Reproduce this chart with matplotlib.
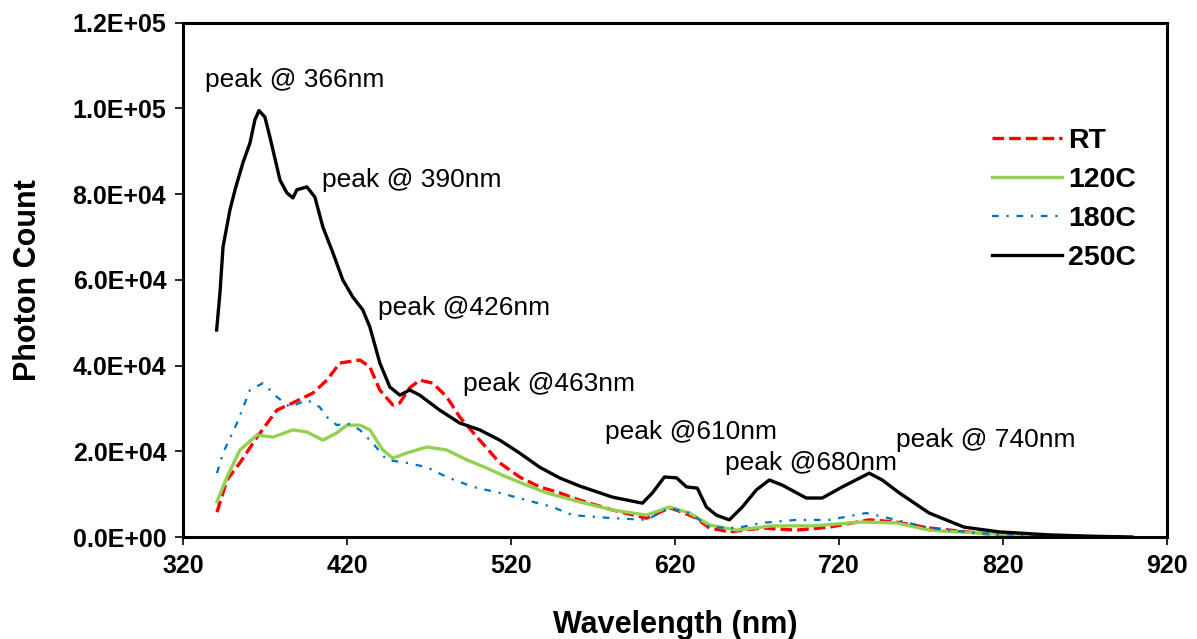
import matplotlib
matplotlib.use('Agg')
import matplotlib.pyplot as plt
from matplotlib.ticker import FuncFormatter

plt.rcParams['font.family'] = ['Liberation Sans', 'DejaVu Sans']

# 250C (black)
wl_250 = [340.5, 342.5, 344.4, 348.6, 351.7, 356.5, 360.8, 363.8, 366.3, 369.9,
          373.0, 379.1, 383.3, 387.0, 389.4, 395.5, 400.4, 405.3, 411.4, 417.4,
          423.5, 429.6, 433.9, 440.0, 446.1, 452.2, 458.2, 464.3, 476.5, 488.7,
          500.9, 513.1, 525.2, 537.4, 549.6, 561.8, 581.9, 600.1, 606.2, 613.5,
          620.9, 627.0, 633.6, 639.1, 645.2, 653.1, 661.0, 669.6, 677.5, 685.4,
          700.0, 709.8, 722.0, 738.4, 746.3, 756.7, 774.9, 796.3, 817.6, 848.0,
          872.4, 898.6]
pc_250 = [48300, 56900, 67700, 76300, 81000, 87300, 91900, 97300, 99500, 98000,
          93300, 83300, 80300, 79100, 81000, 81700, 79300, 72300, 66300, 60000,
          56000, 53000, 49000, 40600, 35000, 33100, 34300, 33100, 29600, 26600,
          25000, 22600, 19600, 16300, 13800, 11900, 9300, 7900, 10300, 14000,
          13800, 11700, 11400, 7000, 5100, 4000, 7000, 11000, 13300, 12100,
          9100, 9100, 11700, 14900, 13300, 10300, 5600, 2300, 1200, 500,
          200, 0]

# RT (red dashed)
wl_rt = [340.7, 346.8, 354.7, 365.1, 377.2, 387.0, 399.2, 407.7, 415.6, 427.8,
         433.9, 440.0, 447.9, 452.2, 458.2, 464.3, 472.3, 480.8, 488.7, 500.9,
         513.1, 525.2, 537.4, 549.6, 561.8, 581.9, 602.6, 616.6, 624.5, 633.0,
         641.0, 653.1, 673.2, 693.9, 714.0, 738.4, 754.8, 774.9, 805.4, 817.6,
         848.0, 892.5]
pc_rt = [5800, 13300, 17300, 23300, 29600, 31300, 33600, 36600, 40600, 41300,
         39700, 34300, 30800, 31300, 34800, 36600, 35900, 32700, 28000, 22600,
         17300, 14000, 11700, 10300, 8600, 6300, 4400, 6800, 5800, 4400,
         2100, 1200, 2100, 1600, 2300, 4000, 3500, 2100, 900, 500,
         200, 0]

# 120C (green)
wl_120 = [340.7, 346.8, 354.7, 365.1, 374.8, 387.0, 395.5, 405.3, 413.8, 419.9,
          427.8, 433.9, 441.8, 447.9, 456.4, 468.6, 480.8, 493.0, 505.1, 517.3,
          529.5, 541.7, 561.8, 581.9, 602.6, 616.6, 628.8, 641.0, 657.4, 679.3,
          703.7, 734.1, 754.8, 774.9, 805.4, 848.0]
pc_120 = [8200, 14000, 20300, 23800, 23300, 25000, 24500, 22600, 24300, 26100,
          26100, 25000, 20300, 18400, 19600, 21000, 20300, 18000, 16100, 14000,
          12100, 10300, 8200, 6300, 5100, 7000, 5600, 2800, 1600, 2600,
          2600, 3500, 3300, 1600, 900, 200]

# 180C (blue dash-dot)
wl_180 = [340.7, 344.4, 352.9, 360.8, 368.7, 377.2, 385.2, 395.5, 403.4, 407.7,
          413.8, 419.9, 427.8, 435.7, 444.2, 456.4, 468.6, 480.8, 496.6, 513.1,
          529.5, 545.3, 557.5, 581.9, 602.6, 616.6, 628.8, 641.0, 657.4, 673.2,
          693.9, 714.0, 736.6, 754.8, 774.9, 805.4, 852.3]
pc_180 = [14900, 19600, 26600, 34300, 35900, 32700, 30300, 32000, 30300, 28000,
          26100, 26600, 25000, 21900, 18000, 17300, 16300, 14000, 11700, 10300,
          8600, 7000, 5100, 4400, 4000, 6800, 5600, 2300, 2100, 3300,
          4000, 4000, 5600, 4000, 2100, 900, 200]

peak_labels = ['peak @ 366nm', 'peak @ 390nm', 'peak @426nm', 'peak @463nm',
               'peak @610nm', 'peak @680nm', 'peak @ 740nm']
label_x = [333.4, 404.7, 438.8, 490.5, 577.0, 650.7, 754.8]
label_y = [106600, 83300, 53400, 35700, 24500, 17300, 22600]

fig = plt.figure(figsize=(11.97, 6.39), dpi=100)
ax = fig.add_axes([0.1529, 0.1596, 0.8221, 0.8049])

ax.plot(wl_rt, pc_rt, color='#FF0000', lw=2.4, dashes=(3.5, 1.5), label='RT')
ax.plot(wl_120, pc_120, color='#92D050', lw=2.4, label='120C')
ax.plot(wl_180, pc_180, color='#0070C0', lw=1.6, dashes=(3, 3.5, 1, 3.5), label='180C')
ax.plot(wl_250, pc_250, color='black', lw=2.4, label='250C')

for t, x, y in zip(peak_labels, label_x, label_y):
    ax.text(x, y, t, fontsize=19, ha='left', va='center')

ax.set_xlim(320, 920)
ax.set_ylim(0, 120000)
ax.set_xticks(range(320, 921, 100))
ax.set_yticks(range(0, 120001, 20000))
ax.yaxis.set_major_formatter(FuncFormatter(lambda v, p: f'{v:.1E}'))

for s in ax.spines.values():
    s.set_linewidth(2.2)
ax.tick_params(direction='out', length=6, width=1.2, labelsize=18, pad=6)
for lab in ax.get_xticklabels() + ax.get_yticklabels():
    lab.set_fontweight('bold')

ax.set_xlabel('Wavelength (nm)', fontsize=22, fontweight='bold', labelpad=23)
ax.set_ylabel('Photon Count', fontsize=22, fontweight='bold', labelpad=21)

ax.legend(loc='upper left', bbox_to_anchor=(0.822, 0.795), frameon=False,
          prop={'size': 20.5, 'weight': 'bold'}, handlelength=2.45,
          handletextpad=0.22, labelspacing=0.46, borderaxespad=0, borderpad=0)

fig.savefig('out.png', dpi=100)
